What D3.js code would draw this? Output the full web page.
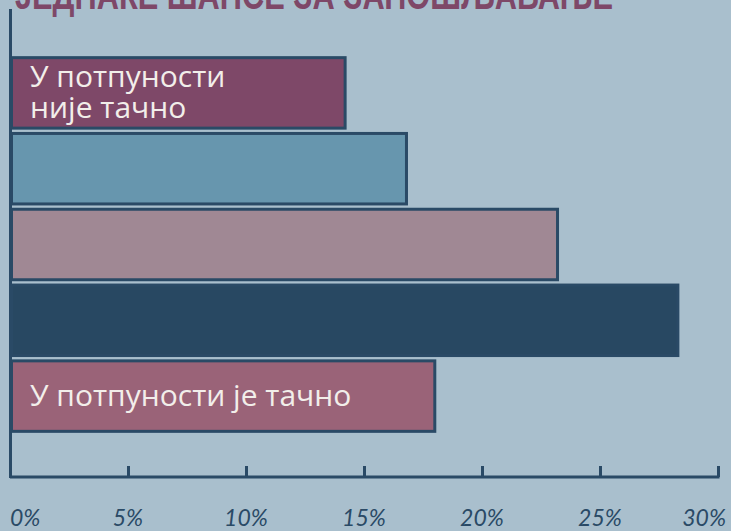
<!DOCTYPE html>
<html><head><meta charset="utf-8">
<script src="https://cdn.jsdelivr.net/npm/d3@7"></script>
<style>
html,body{margin:0;padding:0;background:#a9bfcd;}
svg{display:block;}
</style></head>
<body>
<script>
const title = "ЈЕДНАКЕ ШАНСЕ ЗА ЗАПОШЉАВАЊЕ";
const categories = ["У потпуности није тачно","Углавном није тачно","Нити је тачно нити није","Углавном је тачно","У потпуности је тачно"];
const values = [14.2, 16.8, 23.2, 28.3, 18.0];
const barLabels = [["У потпуности","није тачно"], [], [], [], ["У потпуности је тачно"]];
const colors = ["#7e4868","#6796ae","#a08894","#284862","#9a6378"];
const tickValues = [0,5,10,15,20,25,30];
const tickLabels = ["0%","5%","10%","15%","20%","25%","30%"];

const W = 731, H = 531;
const svg = d3.select("body").append("svg").attr("width", W).attr("height", H);
svg.append("rect").attr("width", W).attr("height", H).attr("fill", "#a9bfcd");

const x = d3.scaleLinear().domain([0, 30]).range([10, 718]);
const y = d3.scaleBand().domain(categories).range([55, 434]).paddingInner(0.07).paddingOuter(0.035);
const axisColor = "#2a4a66";

// title (partially clipped above the top edge)
svg.append("text").text(title)
  .attr("x", 15).attr("y", 9)
  .attr("font-family", "Liberation Sans Narrow, Liberation Sans, sans-serif")
  .attr("font-weight", "bold").attr("font-size", 40)
  .attr("textLength", 598).attr("lengthAdjust", "spacingAndGlyphs")
  .attr("fill", "#7e4868");

// vertical axis line
svg.append("line").attr("x1", 10.5).attr("x2", 10.5).attr("y1", 9).attr("y2", 478)
  .attr("stroke", axisColor).attr("stroke-width", 3);

// bars
svg.selectAll("rect.bar").data(categories).join("rect")
  .attr("class", "bar")
  .attr("x", x(0) + 1.5)
  .attr("y", d => y(d))
  .attr("width", (d, i) => x(values[i]) - x(0) - 1.5)
  .attr("height", y.bandwidth())
  .attr("fill", (d, i) => colors[i])
  .attr("stroke", axisColor).attr("stroke-width", 3);

// bar labels
categories.forEach((c, i) => {
  const lines = barLabels[i];
  if (!lines.length) return;
  const lh = 31;
  const mid = y(c) + y.bandwidth() / 2;
  const first = mid - (lines.length - 1) * lh / 2 + 10;
  lines.forEach((l, j) => {
    svg.append("text")
      .attr("font-family", "Open Sans, sans-serif")
      .attr("font-size", 30).attr("fill", "#f2eeea")
      .attr("x", 30).attr("y", first + j * lh).text(l);
  });
});

// x axis
const axisG = svg.append("g").attr("transform", "translate(0,477)");
const axis = d3.axisTop(x).tickValues(tickValues).tickSize(11).tickFormat("");
axisG.call(axis);
axisG.select(".domain").remove();
axisG.selectAll(".tick line").attr("stroke", axisColor).attr("stroke-width", 3);
axisG.append("line").attr("x1", x(0)).attr("x2", x(30) + 1.5).attr("y1", 0).attr("y2", 0)
  .attr("stroke", axisColor).attr("stroke-width", 3);

// tick labels
const lab = svg.append("g").selectAll("text").data(tickValues).join("text")
  .attr("font-family", "Lato, sans-serif").attr("font-style", "italic")
  .attr("font-size", 23).attr("fill", axisColor)
  .attr("y", 526)
  .text((d, i) => tickLabels[i]);
lab.each(function(d) {
  const w = this.getComputedTextLength();
  let cx = x(d) - w / 2;
  cx = Math.max(10, Math.min(726 - w, cx));
  d3.select(this).attr("x", cx);
});
</script>
</body></html>
